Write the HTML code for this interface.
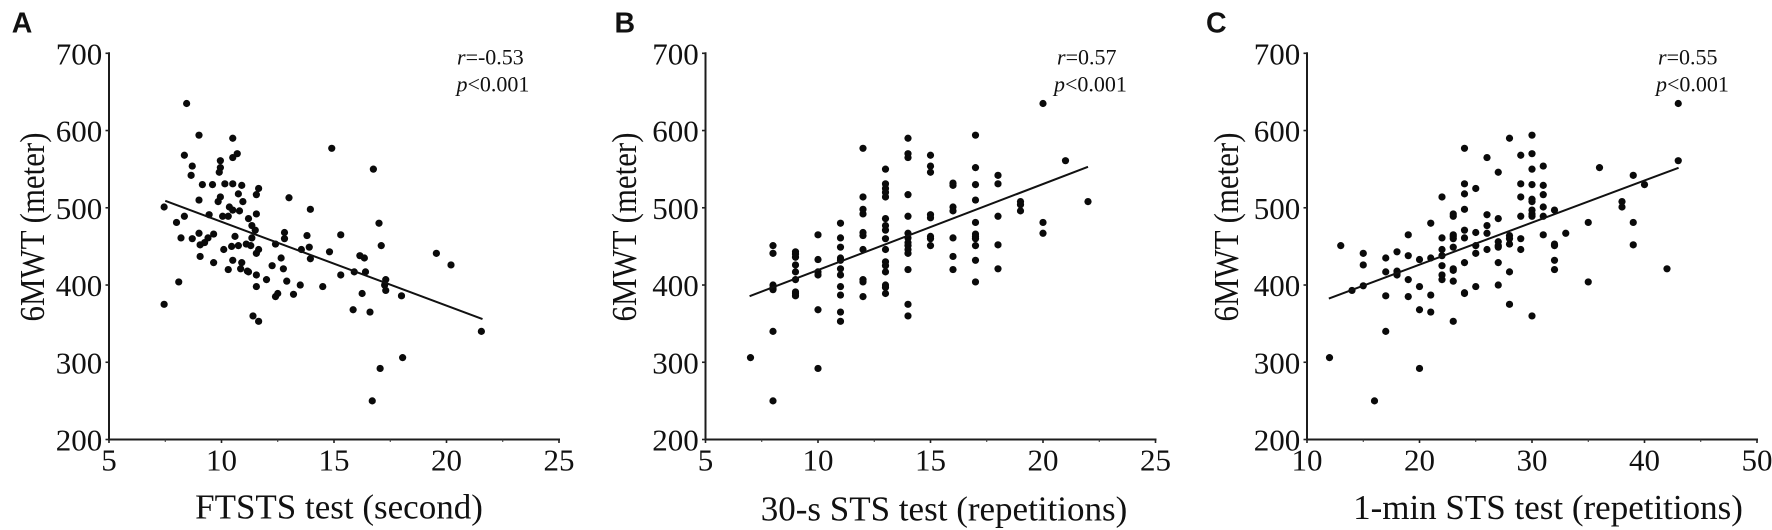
<!DOCTYPE html>
<html lang="en">
<head>
<meta charset="utf-8">
<title>6MWT correlation scatter plots</title>
<style>
html,body{margin:0;padding:0;background:#fff;width:1772px;height:530px;overflow:hidden}
svg{display:block}
text{font-family:"Liberation Serif",serif;fill:#111}
.letter{font-family:"Liberation Sans",sans-serif;font-weight:700;font-size:28.5px}
.tick{font-size:31px}
.title{font-size:35px}
.ytitle{font-size:35px}
.note{font-size:22px}
</style>
</head>
<body>
<svg id="figure" width="1772" height="530" viewBox="0 0 1772 530" xmlns="http://www.w3.org/2000/svg"></svg>
<script>
const yTicks = [200, 300, 400, 500, 600, 700];
const xTicksA = [5, 10, 15, 20, 25];
const xTicksB = [5, 10, 15, 20, 25];
const xTicksC = [10, 20, 30, 40, 50];

const pointsAX = [8.45,9.0,10.5,14.9,10.7,8.35,10.5,9.95,8.7,9.95,
16.75,9.9,8.65,9.15,9.6,10.15,10.5,10.9,11.65,10.75,
11.55,13.0,9.95,9.0,9.85,10.95,10.35,7.45,10.5,10.8,
13.95,9.45,11.55,10.05,10.3,8.35,11.2,8.0,17.0,11.35,
11.5,9.0,12.8,9.65,15.3,13.8,10.6,9.4,8.2,8.7,
11.35,12.8,9.25,11.1,9.05,11.3,12.4,10.75,10.45,17.1,
13.9,10.1,13.55,11.65,11.55,14.8,19.55,16.15,16.35,9.05,
12.65,13.95,10.5,9.65,10.9,20.2,12.25,12.75,10.85,10.3,
11.15,11.2,15.9,16.4,15.3,11.55,12.0,17.3,8.1,12.9,
17.25,13.5,11.55,14.5,17.3,16.25,12.5,13.2,18.0,12.4,
7.45,15.85,16.6,11.4,11.65,21.55,18.05,17.05,16.7];
const pointsAY = [635,594,590,577,570,568,565,561,554,552,
550,546,542,530,530,531,531,529,525,518,
517,513,514,510,508,508,501,501,497,496,
498,491,492,489,489,489,486,481,480,477,
471,467,468,466,465,464,463,461,461,460,
461,460,455,453,452,451,453,451,450,451,
449,446,446,446,441,443,441,438,435,437,
435,434,432,429,429,426,425,421,421,420,
418,417,417,417,413,413,407,407,404,405,
400,400,398,398,393,389,389,388,386,385,
375,368,365,360,353,340,306,292,250];

const pointsBX = [7,
8,8,8,8,8,8,8,
9,9,9,9,9,9,9,9,9,
10,10,10,10,10,10,
11,11,11,11,11,11,11,11,11,11,11,
12,12,12,12,12,12,12,12,12,12,
13,13,13,13,13,13,13,13,13,13,13,13,13,13,13,13,
14,14,14,14,14,14,14,14,14,14,14,14,14,14,
15,15,15,15,15,15,15,15,
16,16,16,16,16,16,16,
17,17,17,17,17,17,17,17,17,17,17,
18,18,18,18,18,
19,19,19,
20,20,20,
21,
22];
const pointsBY = [306,
451,441,400,396,394,340,250,
443,440,436,426,417,407,391,389,386,
465,433,417,413,368,292,
480,461,449,435,432,421,413,398,387,365,353,
577,514,498,492,468,464,446,407,404,385,
550,531,525,520,514,486,477,471,460,446,430,425,417,400,397,389,
590,570,565,517,489,467,461,455,451,446,441,420,375,360,
568,554,546,491,487,463,460,451,
532,529,501,496,461,437,420,
594,552,530,510,481,466,463,460,451,432,404,
542,531,489,452,421,
508,504,496,
635,481,467,
561,
508];

const pointsCX = [12,
13,
14,
15,15,15,
16,
17,17,17,17,
18,18,18,18,
19,19,19,19,
20,20,20,20,
21,21,21,21,
22,22,22,22,22,22,22,
23,23,23,23,23,23,23,23,23,23,
24,24,24,24,24,24,24,24,24,
25,25,25,25,25,
26,26,26,26,26,
27,27,27,27,27,27,27,
28,28,28,28,28,28,
29,29,29,29,29,29,
30,30,30,30,30,30,30,30,30,30,
31,31,31,31,31,31,
32,32,32,32,32,
33,
35,35,
36,
38,38,
39,39,39,
40,
42,
43,43];
const pointsCY = [306,
451,
393,
441,426,399,
250,
435,417,386,340,
443,418,415,413,
465,438,407,385,
433,398,368,292,
480,435,387,365,
514,461,446,438,425,413,407,
492,489,465,463,460,449,421,419,405,353,
577,531,518,498,471,461,429,390,389,
525,468,451,441,398,
565,491,477,467,446,
546,486,456,451,449,429,400,
590,464,460,453,417,375,
568,531,514,489,460,446,
594,570,550,530,511,508,497,492,489,360,
554,529,517,501,489,465,
497,453,451,432,420,
467,
481,404,
552,
508,501,
542,481,452,
530,
421,
635,561];

const fitAX = [7.5, 21.6];
const fitAY = [509, 356];
const fitBX = [6.96, 22];
const fitBY = [385.5, 553];
const fitCX = [11.94, 43.03];
const fitCY = [382.5, 551.8];

const NS = 'http://www.w3.org/2000/svg';
const root = document.getElementById('figure');

function make(tag, parent, attrs, content) {
  const node = document.createElementNS(NS, tag);
  for (const key in attrs) node.setAttribute(key, attrs[key]);
  if (content !== undefined) node.textContent = content;
  parent.appendChild(node);
  return node;
}

function drawPanel(cfg) {
  const sx = v => cfg.left + (v - cfg.xTicks[0]) / (cfg.xTicks[cfg.xTicks.length - 1] - cfg.xTicks[0]) * (cfg.right - cfg.left);
  const sy = v => cfg.bottom - (v - yTicks[0]) / (yTicks[yTicks.length - 1] - yTicks[0]) * (cfg.bottom - cfg.top);

  const g = make('g', root, {});
  
  

  const letter = make('text', g, {x: cfg.letterX, y: 32.4, class: 'letter'}, cfg.id.toUpperCase());
  
  

  const yAxis = make('line', g, {x1: cfg.left, x2: cfg.left, y1: cfg.top - 1, y2: cfg.bottom + 1, stroke: '#1c1c1c', 'stroke-width': 2});
  
  

  const xAxis = make('line', g, {x1: cfg.left - 1, x2: cfg.right + 1, y1: cfg.bottom, y2: cfg.bottom, stroke: '#1c1c1c', 'stroke-width': 2});
  
  

  yTicks.forEach(v => {
    const tick = make('line', g, {x1: cfg.left - 3.5, x2: cfg.left, y1: sy(v), y2: sy(v), stroke: '#222', 'stroke-width': 1.6});
    
    
    const label = make('text', g, {x: cfg.left - 6.8, y: sy(v) + 11, 'text-anchor': 'end', class: 'tick'}, v);
    
    
  });

  cfg.xTicks.forEach((v, i) => {
    const tick = make('line', g, {x1: sx(v), x2: sx(v), y1: cfg.bottom, y2: cfg.bottom + 3.5, stroke: '#222', 'stroke-width': 1.6});
    
    
    const label = make('text', g, {x: sx(v), y: 470.5, 'text-anchor': 'middle', class: 'tick'}, v);
    
    
    if (i < cfg.xTicks.length - 1) {
      const mid = (v + cfg.xTicks[i + 1]) / 2;
      const minor = make('line', g, {x1: sx(mid), x2: sx(mid), y1: cfg.bottom, y2: cfg.bottom + 2.5, stroke: '#333', 'stroke-width': 1});
      
      
    }
  });

  const yTitle = make('text', g, {transform: 'translate(' + cfg.yTitleX + ' 227) rotate(-90)', 'text-anchor': 'middle', textLength: 189, lengthAdjust: 'spacingAndGlyphs', class: 'ytitle'}, '6MWT (meter)');
  
  

  const xTitle = make('text', g, {x: cfg.titleX, y: cfg.titleY, 'text-anchor': 'middle', class: 'title'}, cfg.xTitle);
  
  

  const rNote = make('text', g, {x: cfg.rX, y: 64.3, class: 'note'});
  
  
  make('tspan', rNote, {'font-style': 'italic'}, 'r');
  make('tspan', rNote, {}, cfg.rText);

  const pNote = make('text', g, {x: cfg.pX, y: 91.7, class: 'note'});
  
  
  make('tspan', pNote, {'font-style': 'italic'}, 'p');
  make('tspan', pNote, {}, '<0.001');

  cfg.px.forEach((xv, i) => {
    const dot = make('circle', g, {cx: sx(xv), cy: sy(cfg.py[i]), r: 3.6, fill: '#0a0a0a'});
    
    
  });

  const fit = make('line', g, {x1: sx(cfg.fx[0]), y1: sy(cfg.fy[0]), x2: sx(cfg.fx[1]), y2: sy(cfg.fy[1]), stroke: '#111', 'stroke-width': 2});
  
  
}

drawPanel({id: 'a', left: 109, right: 559, top: 53.3, bottom: 439.5, letterX: 11.7, yTitleX: 44,
  titleX: 339, titleY: 518.5, xTitle: 'FTSTS test (second)', rX: 457, pX: 456.5, rText: '=-0.53',
  xTicks: xTicksA, px: pointsAX, py: pointsAY, fx: fitAX, fy: fitAY});
drawPanel({id: 'b', left: 705.5, right: 1155.5, top: 53.3, bottom: 439.5, letterX: 614.5, yTitleX: 636,
  titleX: 944, titleY: 520.7, xTitle: '30-s STS test (repetitions)', rX: 1057, pX: 1054, rText: '=0.57',
  xTicks: xTicksB, px: pointsBX, py: pointsBY, fx: fitBX, fy: fitBY});
drawPanel({id: 'c', left: 1307, right: 1757, top: 53.3, bottom: 439.5, letterX: 1206, yTitleX: 1238,
  titleX: 1548, titleY: 519, xTitle: '1-min STS test (repetitions)', rX: 1658, pX: 1656, rText: '=0.55',
  xTicks: xTicksC, px: pointsCX, py: pointsCY, fx: fitCX, fy: fitCY});
</script>
</body>
</html>
